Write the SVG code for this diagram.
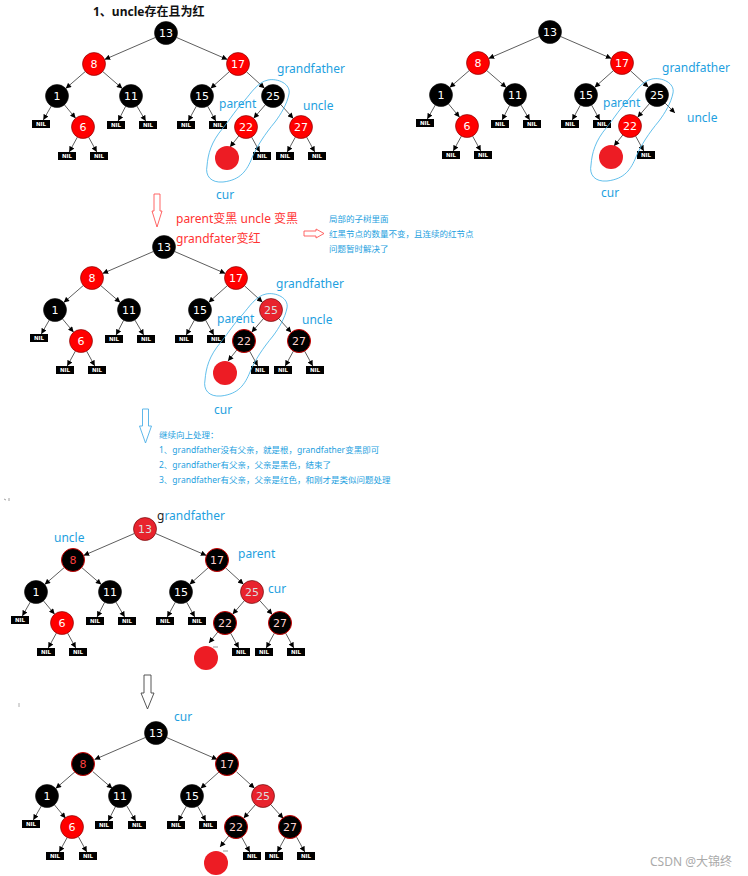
<svg xmlns="http://www.w3.org/2000/svg" xmlns:xlink="http://www.w3.org/1999/xlink" width="748" height="876" viewBox="0 0 748 876">
<style>
.e{stroke:#333;stroke-width:0.8;fill:none;marker-end:url(#ah)}
.n text{font-family:"DejaVu Sans",sans-serif;font-size:11px;text-anchor:middle;fill:#fff}
.nb circle{fill:#000;stroke:#111;stroke-width:0.6}
.nr circle{fill:#f00;stroke:#700;stroke-width:0.6}
.nr2 circle{fill:#e8232d;stroke:#5a0000;stroke-width:0.6}
.nr2 text{fill:#ddd}
.nbr circle{fill:#000;stroke:#c00;stroke-width:1}
.nbr text{fill:#ffd0d0}
.nbr2 circle{fill:#000;stroke:#c00;stroke-width:1}
.nbr2 text{fill:#ff4040}
.nil rect{fill:#000}
.nil text{font-family:"DejaVu Sans",sans-serif;font-size:5.5px;font-weight:bold;fill:#fff;text-anchor:middle}
.cur{fill:#ed1c24}
.lb{font-family:"Noto Sans","Noto Sans CJK SC",sans-serif;font-size:12px;fill:#1e9fe0}
.rd{font-family:"Noto Sans","Noto Sans CJK SC",sans-serif;font-size:12px;fill:#f33}
.sm{font-family:"Noto Sans","Noto Sans CJK SC",sans-serif;font-size:8.5px;fill:#1e9fe0}
.loop{fill:none;stroke:#3aaee6;stroke-width:0.8}
</style>
<defs>
<marker id="ah" viewBox="0 0 10 10" refX="10" refY="5" markerWidth="6" markerHeight="5.5" markerUnits="userSpaceOnUse" orient="auto"><path d="M0,0 L10,5 L0,10 z" fill="#000"/></marker>
<path id="loopShape" d="M-5,-16 C5,-18 18,-12 16,-2 C14,8 8,18 2,26 C-8,38 -16,50 -21,62 C-26,74 -32,84 -50,86 C-62,87 -68,80 -66,70 C-65,58 -62,46 -50,32 C-42,22 -36,12 -28,4 C-22,-3 -15,-14 -5,-16 Z"/>
</defs>
<rect width="748" height="876" fill="#fff"/>

<text x="93" y="16" font-family="Noto Sans, Noto Sans CJK SC, sans-serif" font-size="12" font-weight="bold" fill="#111">1、uncle存在且为红</text>

<!-- ===== Tree 1 ===== -->
<g id="tree1" transform="translate(166,33)">
<g id="t1-connectors">
<line class="e" x1="-10.6" y1="4.5" x2="-61.4" y2="26.5"/>
<line class="e" x1="10.6" y1="4.5" x2="61.4" y2="26.5"/>
<line class="e" x1="-80.7" y1="38.5" x2="-100.3" y2="55.5"/>
<line class="e" x1="-63.3" y1="38.5" x2="-43.7" y2="55.5"/>
<line class="e" x1="63.4" y1="38.6" x2="44.6" y2="55.4"/>
<line class="e" x1="80.5" y1="38.8" x2="98.5" y2="55.2"/>
<line class="e" x1="-114.7" y1="73" x2="-122.7" y2="87"/>
<line class="e" x1="-101.6" y1="71.8" x2="-90.4" y2="85.2"/>
<line class="e" x1="-40.3" y1="73.2" x2="-47.9" y2="88"/>
<line class="e" x1="-29.2" y1="72.9" x2="-20.3" y2="88"/>
<line class="e" x1="30.4" y1="73.1" x2="22.2" y2="88"/>
<line class="e" x1="41.6" y1="73.1" x2="49.8" y2="88"/>
<line class="e" x1="99.4" y1="71.7" x2="87.6" y2="85.3"/>
<line class="e" x1="-88.6" y1="104.1" x2="-96.8" y2="119"/>
<line class="e" x1="-77.4" y1="104.1" x2="-69.2" y2="119"/>
<line class="e" x1="72.8" y1="103" x2="64" y2="114"/>
<line class="e" x1="85.6" y1="104.1" x2="93.8" y2="119"/>
<line class="e" x1="114.7" y1="71.5" x2="127.3" y2="85.5"/>
<line class="e" x1="129.4" y1="104.1" x2="121.2" y2="119"/>
<line class="e" x1="140.6" y1="104.1" x2="148.8" y2="119"/>
</g>
<g id="t1-n13" class="n nb" transform="translate(0,0)"><circle r="11.5"/><text y="4">13</text></g>
<g id="t1-n8" class="n nr" transform="translate(-72,31)"><circle r="11.5"/><text y="4">8</text></g>
<g id="t1-n17" class="n nr" transform="translate(72,31)"><circle r="11.5"/><text y="4">17</text></g>
<g id="t1-n1" class="n nb" transform="translate(-109,63)"><circle r="11.5"/><text y="4">1</text></g>
<g id="t1-n11" class="n nb" transform="translate(-35,63)"><circle r="11.5"/><text y="4">11</text></g>
<g id="t1-n15" class="n nb" transform="translate(36,63)"><circle r="11.5"/><text y="4">15</text></g>
<g id="t1-n25" class="n nb" transform="translate(107,63)"><circle r="11.5"/><text y="4">25</text></g>
<g id="t1-n6" class="n nr" transform="translate(-83,94)"><circle r="11.5"/><text y="4">6</text></g>
<g id="t1-n22" class="n nr" transform="translate(80,94)"><circle r="11.5"/><text y="4">22</text></g>
<g id="t1-n27" class="n nr" transform="translate(135,94)"><circle r="11.5"/><text y="4">27</text></g>
<g id="t1-nil1" class="nil" transform="translate(-125,91)"><rect x="-9" y="-4" width="18" height="8"/><text y="2">NIL</text></g>
<g id="t1-nil2" class="nil" transform="translate(-50,92)"><rect x="-9" y="-4" width="18" height="8"/><text y="2">NIL</text></g>
<g id="t1-nil3" class="nil" transform="translate(-18,92)"><rect x="-9" y="-4" width="18" height="8"/><text y="2">NIL</text></g>
<g id="t1-nil4" class="nil" transform="translate(20,92)"><rect x="-9" y="-4" width="18" height="8"/><text y="2">NIL</text></g>
<g id="t1-nil5" class="nil" transform="translate(52,92)"><rect x="-9" y="-4" width="18" height="8"/><text y="2">NIL</text></g>
<g id="t1-nil6" class="nil" transform="translate(-99,123)"><rect x="-9" y="-4" width="18" height="8"/><text y="2">NIL</text></g>
<g id="t1-nil7" class="nil" transform="translate(-67,123)"><rect x="-9" y="-4" width="18" height="8"/><text y="2">NIL</text></g>
<g id="t1-nil8" class="nil" transform="translate(96,123)"><rect x="-9" y="-4" width="18" height="8"/><text y="2">NIL</text></g>
<g id="t1-nil9" class="nil" transform="translate(119,123)"><rect x="-9" y="-4" width="18" height="8"/><text y="2">NIL</text></g>
<g id="t1-nil10" class="nil" transform="translate(151,123)"><rect x="-9" y="-4" width="18" height="8"/><text y="2">NIL</text></g>
<g id="t1-cur"><circle class="cur" cx="61" cy="125" r="12"/></g>
<use href="#loopShape" class="loop" x="107" y="63"/>
</g>
<text class="lb" x="277" y="73">grandfather</text>
<text class="lb" x="219" y="108">parent</text>
<text class="lb" x="303" y="110">uncle</text>
<text class="lb" x="216" y="199">cur</text>

<!-- ===== Tree 2 ===== -->
<g id="tree2" transform="translate(550,32)">
<g id="t2-connectors">
<line class="e" x1="-10.6" y1="4.5" x2="-61.4" y2="26.5"/>
<line class="e" x1="10.6" y1="4.5" x2="61.4" y2="26.5"/>
<line class="e" x1="-80.7" y1="38.5" x2="-100.3" y2="55.5"/>
<line class="e" x1="-63.3" y1="38.5" x2="-43.7" y2="55.5"/>
<line class="e" x1="63.4" y1="38.6" x2="44.6" y2="55.4"/>
<line class="e" x1="80.5" y1="38.8" x2="98.5" y2="55.2"/>
<line class="e" x1="-114.7" y1="73" x2="-122.7" y2="87"/>
<line class="e" x1="-101.6" y1="71.8" x2="-90.4" y2="85.2"/>
<line class="e" x1="-40.3" y1="73.2" x2="-47.9" y2="88"/>
<line class="e" x1="-29.2" y1="72.9" x2="-20.3" y2="88"/>
<line class="e" x1="30.4" y1="73.1" x2="22.2" y2="88"/>
<line class="e" x1="41.6" y1="73.1" x2="49.8" y2="88"/>
<line class="e" x1="99.4" y1="71.7" x2="87.6" y2="85.3"/>
<line class="e" x1="-88.6" y1="104.1" x2="-96.8" y2="119"/>
<line class="e" x1="-77.4" y1="104.1" x2="-69.2" y2="119"/>
<line class="e" x1="72.8" y1="103" x2="64" y2="114"/>
<line class="e" x1="85.6" y1="104.1" x2="93.8" y2="119"/>
<line class="e" x1="115.1" y1="71.1" x2="125" y2="81"/>
</g>
<g id="t2-n13" class="n nb"><circle r="11.5"/><text y="4">13</text></g>
<g id="t2-n8" class="n nr" transform="translate(-72,31)"><circle r="11.5"/><text y="4">8</text></g>
<g id="t2-n17" class="n nr" transform="translate(72,31)"><circle r="11.5"/><text y="4">17</text></g>
<g id="t2-n1" class="n nb" transform="translate(-109,63)"><circle r="11.5"/><text y="4">1</text></g>
<g id="t2-n11" class="n nb" transform="translate(-35,63)"><circle r="11.5"/><text y="4">11</text></g>
<g id="t2-n15" class="n nb" transform="translate(36,63)"><circle r="11.5"/><text y="4">15</text></g>
<g id="t2-n25" class="n nb" transform="translate(107,63)"><circle r="11.5"/><text y="4">25</text></g>
<g id="t2-n6" class="n nr" transform="translate(-83,94)"><circle r="11.5"/><text y="4">6</text></g>
<g id="t2-n22" class="n nr" transform="translate(80,94)"><circle r="11.5"/><text y="4">22</text></g>
<g id="t2-nil1" class="nil" transform="translate(-125,91)"><rect x="-9" y="-4" width="18" height="8"/><text y="2">NIL</text></g>
<g id="t2-nil2" class="nil" transform="translate(-50,92)"><rect x="-9" y="-4" width="18" height="8"/><text y="2">NIL</text></g>
<g id="t2-nil3" class="nil" transform="translate(-18,92)"><rect x="-9" y="-4" width="18" height="8"/><text y="2">NIL</text></g>
<g id="t2-nil4" class="nil" transform="translate(20,92)"><rect x="-9" y="-4" width="18" height="8"/><text y="2">NIL</text></g>
<g id="t2-nil5" class="nil" transform="translate(52,92)"><rect x="-9" y="-4" width="18" height="8"/><text y="2">NIL</text></g>
<g id="t2-nil6" class="nil" transform="translate(-99,123)"><rect x="-9" y="-4" width="18" height="8"/><text y="2">NIL</text></g>
<g id="t2-nil7" class="nil" transform="translate(-67,123)"><rect x="-9" y="-4" width="18" height="8"/><text y="2">NIL</text></g>
<g id="t2-nil8" class="nil" transform="translate(96,123)"><rect x="-9" y="-4" width="18" height="8"/><text y="2">NIL</text></g>
<g id="t2-cur"><circle class="cur" cx="61" cy="125" r="12"/></g>
<use href="#loopShape" class="loop" x="107" y="63"/>
</g>
<text class="lb" x="662" y="72">grandfather</text>
<text class="lb" x="603" y="107">parent</text>
<text class="lb" x="687" y="122">uncle</text>
<text class="lb" x="601" y="197">cur</text>

<!-- ===== middle annotations ===== -->
<path d="M154,194 H160 V211 H162 L157,227 L152,211 H154 Z" fill="#fff" stroke="#f55" stroke-width="0.9"/>
<text class="rd" x="176" y="223">parent变黑 uncle 变黑</text>
<text class="rd" x="176" y="243">grandfater变红</text>
<path d="M304,231 H316 V229 L324,233.5 L316,238 V236 H304 Z" fill="#fff" stroke="#f55" stroke-width="0.9"/>
<text class="sm" x="329" y="222">局部的子树里面</text>
<text class="sm" x="329" y="237">红黑节点的数量不变，且连续的红节点</text>
<text class="sm" x="329" y="252">问题暂时解决了</text>

<!-- ===== Tree 3 ===== -->
<g id="tree3" transform="translate(164,247)">
<g id="t3-connectors">
<line class="e" x1="-10.6" y1="4.5" x2="-61.4" y2="26.5"/>
<line class="e" x1="10.6" y1="4.5" x2="61.4" y2="26.5"/>
<line class="e" x1="-80.7" y1="38.5" x2="-100.3" y2="55.5"/>
<line class="e" x1="-63.3" y1="38.5" x2="-43.7" y2="55.5"/>
<line class="e" x1="63.4" y1="38.6" x2="44.6" y2="55.4"/>
<line class="e" x1="80.5" y1="38.8" x2="98.5" y2="55.2"/>
<line class="e" x1="-114.7" y1="73" x2="-122.7" y2="87"/>
<line class="e" x1="-101.6" y1="71.8" x2="-90.4" y2="85.2"/>
<line class="e" x1="-40.3" y1="73.2" x2="-47.9" y2="88"/>
<line class="e" x1="-29.2" y1="72.9" x2="-20.3" y2="88"/>
<line class="e" x1="30.4" y1="73.1" x2="22.2" y2="88"/>
<line class="e" x1="41.6" y1="73.1" x2="49.8" y2="88"/>
<line class="e" x1="99.4" y1="71.7" x2="87.6" y2="85.3"/>
<line class="e" x1="-88.6" y1="104.1" x2="-96.8" y2="119"/>
<line class="e" x1="-77.4" y1="104.1" x2="-69.2" y2="119"/>
<line class="e" x1="72.8" y1="103" x2="64" y2="114"/>
<line class="e" x1="85.6" y1="104.1" x2="93.8" y2="119"/>
<line class="e" x1="114.7" y1="71.5" x2="127.3" y2="85.5"/>
<line class="e" x1="129.4" y1="104.1" x2="121.2" y2="119"/>
<line class="e" x1="140.6" y1="104.1" x2="148.8" y2="119"/>
</g>
<g id="t3-n13" class="n nb"><circle r="11.5"/><text y="4">13</text></g>
<g id="t3-n8" class="n nr" transform="translate(-72,31)"><circle r="11.5"/><text y="4">8</text></g>
<g id="t3-n17" class="n nr" transform="translate(72,31)"><circle r="11.5"/><text y="4">17</text></g>
<g id="t3-n1" class="n nb" transform="translate(-109,63)"><circle r="11.5"/><text y="4">1</text></g>
<g id="t3-n11" class="n nb" transform="translate(-35,63)"><circle r="11.5"/><text y="4">11</text></g>
<g id="t3-n15" class="n nb" transform="translate(36,63)"><circle r="11.5"/><text y="4">15</text></g>
<g id="t3-n25" class="n nr2" transform="translate(107,63)"><circle r="11.5"/><text y="4">25</text></g>
<g id="t3-n6" class="n nr" transform="translate(-83,94)"><circle r="11.5"/><text y="4">6</text></g>
<g id="t3-n22" class="n nbr" transform="translate(80,94)"><circle r="11.5"/><text y="4">22</text></g>
<g id="t3-n27" class="n nbr" transform="translate(135,94)"><circle r="11.5"/><text y="4">27</text></g>
<g id="t3-nil1" class="nil" transform="translate(-125,91)"><rect x="-9" y="-4" width="18" height="8"/><text y="2">NIL</text></g>
<g id="t3-nil2" class="nil" transform="translate(-50,92)"><rect x="-9" y="-4" width="18" height="8"/><text y="2">NIL</text></g>
<g id="t3-nil3" class="nil" transform="translate(-18,92)"><rect x="-9" y="-4" width="18" height="8"/><text y="2">NIL</text></g>
<g id="t3-nil4" class="nil" transform="translate(20,92)"><rect x="-9" y="-4" width="18" height="8"/><text y="2">NIL</text></g>
<g id="t3-nil5" class="nil" transform="translate(52,92)"><rect x="-9" y="-4" width="18" height="8"/><text y="2">NIL</text></g>
<g id="t3-nil6" class="nil" transform="translate(-99,123)"><rect x="-9" y="-4" width="18" height="8"/><text y="2">NIL</text></g>
<g id="t3-nil7" class="nil" transform="translate(-67,123)"><rect x="-9" y="-4" width="18" height="8"/><text y="2">NIL</text></g>
<g id="t3-nil8" class="nil" transform="translate(96,123)"><rect x="-9" y="-4" width="18" height="8"/><text y="2">NIL</text></g>
<g id="t3-nil9" class="nil" transform="translate(119,123)"><rect x="-9" y="-4" width="18" height="8"/><text y="2">NIL</text></g>
<g id="t3-nil10" class="nil" transform="translate(151,123)"><rect x="-9" y="-4" width="18" height="8"/><text y="2">NIL</text></g>
<g id="t3-cur"><circle class="cur" cx="61" cy="126" r="12"/></g>
<use href="#loopShape" class="loop" x="107" y="63"/>
</g>
<text class="lb" x="276" y="288">grandfather</text>
<text class="lb" x="217" y="323">parent</text>
<text class="lb" x="302" y="324">uncle</text>
<text class="lb" x="214" y="414">cur</text>

<!-- ===== continue-up annotations ===== -->
<path d="M142.5,409 H148.5 V426 H151.5 L145.5,443 L139.5,426 H142.5 Z" fill="#fff" stroke="#4db0e8" stroke-width="0.9"/>
<text class="sm" x="159" y="438">继续向上处理：</text>
<text class="sm" x="159" y="453">1、grandfather没有父亲，就是根，grandfather变黑即可</text>
<text class="sm" x="159" y="468">2、grandfather有父亲，父亲是黑色，结束了</text>
<text class="sm" x="159" y="483">3、grandfather有父亲，父亲是红色，和刚才是类似问题处理</text>
<line x1="4" y1="499" x2="6" y2="500" stroke="#888" stroke-width="0.8"/>
<line x1="9" y1="498" x2="9" y2="501" stroke="#888" stroke-width="0.8"/>

<!-- ===== Tree 4 ===== -->
<g id="tree4" transform="translate(145,529)">
<g id="t4-connectors">
<line class="e" x1="-10.6" y1="4.5" x2="-61.4" y2="26.5"/>
<line class="e" x1="10.6" y1="4.5" x2="61.4" y2="26.5"/>
<line class="e" x1="-80.7" y1="38.5" x2="-100.3" y2="55.5"/>
<line class="e" x1="-63.3" y1="38.5" x2="-43.7" y2="55.5"/>
<line class="e" x1="63.4" y1="38.6" x2="44.6" y2="55.4"/>
<line class="e" x1="80.5" y1="38.8" x2="98.5" y2="55.2"/>
<line class="e" x1="-114.7" y1="73" x2="-122.7" y2="87"/>
<line class="e" x1="-101.6" y1="71.8" x2="-90.4" y2="85.2"/>
<line class="e" x1="-40.3" y1="73.2" x2="-47.9" y2="88"/>
<line class="e" x1="-29.2" y1="72.9" x2="-20.3" y2="88"/>
<line class="e" x1="30.4" y1="73.1" x2="22.2" y2="88"/>
<line class="e" x1="41.6" y1="73.1" x2="49.8" y2="88"/>
<line class="e" x1="99.4" y1="71.7" x2="87.6" y2="85.3"/>
<line class="e" x1="-88.6" y1="104.1" x2="-96.8" y2="119"/>
<line class="e" x1="-77.4" y1="104.1" x2="-69.2" y2="119"/>
<line class="e" x1="72.8" y1="103" x2="64" y2="114"/>
<line class="e" x1="85.6" y1="104.1" x2="93.8" y2="119"/>
<line class="e" x1="114.7" y1="71.5" x2="127.3" y2="85.5"/>
<line class="e" x1="129.4" y1="104.1" x2="121.2" y2="119"/>
<line class="e" x1="140.6" y1="104.1" x2="148.8" y2="119"/>
<line x1="68" y1="118" x2="73" y2="118" stroke="#555" stroke-width="0.6"/>
</g>
<g id="t4-n13" class="n nr2"><circle r="11.5"/><text y="4">13</text></g>
<g id="t4-n8" class="n nbr2" transform="translate(-72,31)"><circle r="11.5"/><text y="4">8</text></g>
<g id="t4-n17" class="n nbr" transform="translate(72,31)"><circle r="11.5"/><text y="4">17</text></g>
<g id="t4-n1" class="n nb" transform="translate(-109,63)"><circle r="11.5"/><text y="4">1</text></g>
<g id="t4-n11" class="n nb" transform="translate(-35,63)"><circle r="11.5"/><text y="4">11</text></g>
<g id="t4-n15" class="n nb" transform="translate(36,63)"><circle r="11.5"/><text y="4">15</text></g>
<g id="t4-n25" class="n nr2" transform="translate(107,63)"><circle r="11.5"/><text y="4">25</text></g>
<g id="t4-n6" class="n nr" transform="translate(-83,94)"><circle r="11.5"/><text y="4">6</text></g>
<g id="t4-n22" class="n nbr" transform="translate(80,94)"><circle r="11.5"/><text y="4">22</text></g>
<g id="t4-n27" class="n nbr" transform="translate(135,94)"><circle r="11.5"/><text y="4">27</text></g>
<g id="t4-nil1" class="nil" transform="translate(-125,91)"><rect x="-9" y="-4" width="18" height="8"/><text y="2">NIL</text></g>
<g id="t4-nil2" class="nil" transform="translate(-50,92)"><rect x="-9" y="-4" width="18" height="8"/><text y="2">NIL</text></g>
<g id="t4-nil3" class="nil" transform="translate(-18,92)"><rect x="-9" y="-4" width="18" height="8"/><text y="2">NIL</text></g>
<g id="t4-nil4" class="nil" transform="translate(20,92)"><rect x="-9" y="-4" width="18" height="8"/><text y="2">NIL</text></g>
<g id="t4-nil5" class="nil" transform="translate(52,92)"><rect x="-9" y="-4" width="18" height="8"/><text y="2">NIL</text></g>
<g id="t4-nil6" class="nil" transform="translate(-99,123)"><rect x="-9" y="-4" width="18" height="8"/><text y="2">NIL</text></g>
<g id="t4-nil7" class="nil" transform="translate(-67,123)"><rect x="-9" y="-4" width="18" height="8"/><text y="2">NIL</text></g>
<g id="t4-nil8" class="nil" transform="translate(96,123)"><rect x="-9" y="-4" width="18" height="8"/><text y="2">NIL</text></g>
<g id="t4-nil9" class="nil" transform="translate(119,123)"><rect x="-9" y="-4" width="18" height="8"/><text y="2">NIL</text></g>
<g id="t4-nil10" class="nil" transform="translate(151,123)"><rect x="-9" y="-4" width="18" height="8"/><text y="2">NIL</text></g>
<g id="t4-cur"><circle class="cur" cx="61" cy="129" r="12"/></g>
</g>
<text class="lb" x="157" y="520"><tspan fill="#222">g</tspan>randfather</text>
<text class="lb" x="54" y="542">uncle</text>
<text class="lb" x="238" y="558">parent</text>
<text class="lb" x="268" y="593">cur</text>

<!-- ===== arrow to tree 5 ===== -->
<path d="M144,675 H151 V693 H154 L147.5,709 L141,693 H144 Z" fill="#fff" stroke="#444" stroke-width="0.9"/>
<line x1="19" y1="703" x2="19" y2="707" stroke="#999" stroke-width="0.8"/>

<!-- ===== Tree 5 ===== -->
<g id="tree5" transform="translate(156,733)">
<g id="t5-connectors">
<line class="e" x1="-10.6" y1="4.5" x2="-61.4" y2="26.5"/>
<line class="e" x1="10.6" y1="4.5" x2="61.4" y2="26.5"/>
<line class="e" x1="-80.7" y1="38.5" x2="-100.3" y2="55.5"/>
<line class="e" x1="-63.3" y1="38.5" x2="-43.7" y2="55.5"/>
<line class="e" x1="63.4" y1="38.6" x2="44.6" y2="55.4"/>
<line class="e" x1="80.5" y1="38.8" x2="98.5" y2="55.2"/>
<line class="e" x1="-114.7" y1="73" x2="-122.7" y2="87"/>
<line class="e" x1="-101.6" y1="71.8" x2="-90.4" y2="85.2"/>
<line class="e" x1="-40.3" y1="73.2" x2="-47.9" y2="88"/>
<line class="e" x1="-29.2" y1="72.9" x2="-20.3" y2="88"/>
<line class="e" x1="30.4" y1="73.1" x2="22.2" y2="88"/>
<line class="e" x1="41.6" y1="73.1" x2="49.8" y2="88"/>
<line class="e" x1="99.4" y1="71.7" x2="87.6" y2="85.3"/>
<line class="e" x1="-88.6" y1="104.1" x2="-96.8" y2="119"/>
<line class="e" x1="-77.4" y1="104.1" x2="-69.2" y2="119"/>
<line class="e" x1="72.8" y1="103" x2="64" y2="114"/>
<line class="e" x1="85.6" y1="104.1" x2="93.8" y2="119"/>
<line class="e" x1="114.7" y1="71.5" x2="127.3" y2="85.5"/>
<line class="e" x1="129.4" y1="104.1" x2="121.2" y2="119"/>
<line class="e" x1="140.6" y1="104.1" x2="148.8" y2="119"/>
<line x1="67" y1="118" x2="72" y2="118" stroke="#555" stroke-width="0.6"/>
</g>
<g id="t5-n13" class="n nb"><circle r="11.5"/><text y="4">13</text></g>
<g id="t5-n8" class="n nbr2" transform="translate(-73,31)"><circle r="11.5"/><text y="4">8</text></g>
<g id="t5-n17" class="n nbr" transform="translate(71,31)"><circle r="11.5"/><text y="4">17</text></g>
<g id="t5-n1" class="n nb" transform="translate(-109,63)"><circle r="11.5"/><text y="4">1</text></g>
<g id="t5-n11" class="n nb" transform="translate(-36,63)"><circle r="11.5"/><text y="4">11</text></g>
<g id="t5-n15" class="n nb" transform="translate(36,63)"><circle r="11.5"/><text y="4">15</text></g>
<g id="t5-n25" class="n nr2" transform="translate(107,63)"><circle r="11.5"/><text y="4">25</text></g>
<g id="t5-n6" class="n nr" transform="translate(-84,94)"><circle r="11.5"/><text y="4">6</text></g>
<g id="t5-n22" class="n nbr" transform="translate(80,94)"><circle r="11.5"/><text y="4">22</text></g>
<g id="t5-n27" class="n nbr" transform="translate(134,94)"><circle r="11.5"/><text y="4">27</text></g>
<g id="t5-nil1" class="nil" transform="translate(-125,91)"><rect x="-9" y="-4" width="18" height="8"/><text y="2">NIL</text></g>
<g id="t5-nil2" class="nil" transform="translate(-52,92)"><rect x="-9" y="-4" width="18" height="8"/><text y="2">NIL</text></g>
<g id="t5-nil3" class="nil" transform="translate(-19,92)"><rect x="-9" y="-4" width="18" height="8"/><text y="2">NIL</text></g>
<g id="t5-nil4" class="nil" transform="translate(20,92)"><rect x="-9" y="-4" width="18" height="8"/><text y="2">NIL</text></g>
<g id="t5-nil5" class="nil" transform="translate(52,92)"><rect x="-9" y="-4" width="18" height="8"/><text y="2">NIL</text></g>
<g id="t5-nil6" class="nil" transform="translate(-101,123)"><rect x="-9" y="-4" width="18" height="8"/><text y="2">NIL</text></g>
<g id="t5-nil7" class="nil" transform="translate(-68,123)"><rect x="-9" y="-4" width="18" height="8"/><text y="2">NIL</text></g>
<g id="t5-nil8" class="nil" transform="translate(96,123)"><rect x="-9" y="-4" width="18" height="8"/><text y="2">NIL</text></g>
<g id="t5-nil9" class="nil" transform="translate(118,123)"><rect x="-9" y="-4" width="18" height="8"/><text y="2">NIL</text></g>
<g id="t5-nil10" class="nil" transform="translate(150,123)"><rect x="-9" y="-4" width="18" height="8"/><text y="2">NIL</text></g>
<g id="t5-cur"><circle class="cur" cx="60" cy="130" r="12"/></g>
</g>
<text class="lb" x="174" y="721">cur</text>

<text x="650" y="866" font-family="Noto Sans, Noto Sans CJK SC, sans-serif" font-size="12" fill="#aaa">CSDN @大锦终</text>
</svg>
